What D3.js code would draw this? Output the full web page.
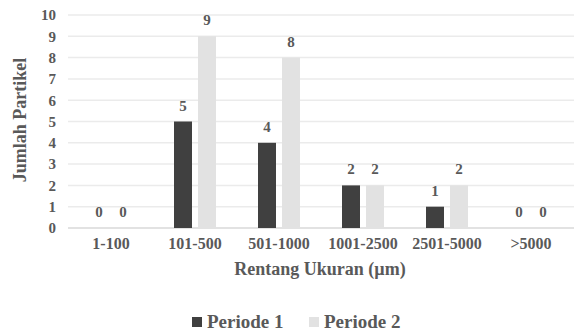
<!DOCTYPE html>
<html>
<head>
<meta charset="utf-8">
<script src="https://cdn.jsdelivr.net/npm/d3@7"></script>
<style>
  body { margin: 0; background: #fff; font-family: "Liberation Serif"; font-weight: bold; }
  #chart { font-family: "Liberation Serif"; }
</style>
</head>
<body>
<div id="chart"></div>
<script>
'use strict';

let categories = ['1-100', '101-500', '501-1000', '1001-2500', '2501-5000', '>5000'];
let seriesNames = ['Periode 1', 'Periode 2'];
let periode1 = [0, 5, 4, 2, 1, 0];
let periode2 = [0, 9, 8, 2, 2, 0];
let yTicks = [0, 1, 2, 3, 4, 5, 6, 7, 8, 9, 10];
let colors = ['#404040', '#e2e2e2'];

let w = 574, h = 331;
let textColor = '#595959';
let svg = d3.select('#chart').append('svg').attr('width', w).attr('height', h)
    .style('font', 'bold 15px "Liberation Serif"');

// shared text styling, font shorthand on every text
let styleText = function (sel, size) {
    sel.attr('font-family', null).attr('font-size', null)
        .style('font', 'bold ' + size + 'px "Liberation Serif"')
        .style('fill', textColor);
};

let x = d3.scaleBand().domain(categories).range([69, 573]);
let x1 = d3.scaleBand().domain(seriesNames).range([0, x.bandwidth()])
    .paddingInner(0.25).paddingOuter(0.875);
let y = d3.scaleLinear().domain([0, 10]).range([228, 15]);

let rows = categories.map(function (c, i) {
    return { cat: c, values: [periode1[i], periode2[i]] };
});

// gridlines
svg.append('g').selectAll('line').data(yTicks).enter().append('line')
    .attr('x1', 68).attr('x2', w)
    .attr('y1', function (d) { return y(d); })
    .attr('y2', function (d) { return y(d); })
    .attr('stroke', function (d) { return d === 0 ? '#d9d9d9' : '#ebebeb'; })
    .attr('stroke-width', 1.5);

// y axis labels
let yAxis = d3.axisLeft(y).tickValues(yTicks).tickSize(0).tickPadding(0);
svg.append('g')
    .attr('transform', 'translate(56,0)')
    .call(yAxis)
    .call(function (g) {
        g.select('.domain').remove();
        g.attr('font-family', null).attr('font-size', null);
    })
    .selectAll('text')
    .call(styleText, 15);

// x axis labels
let xAxis = d3.axisBottom(x).tickSize(0).tickPadding(0);
svg.append('g')
    .attr('transform', 'translate(0,238)')
    .call(xAxis)
    .call(function (g) {
        g.select('.domain').remove();
        g.attr('font-family', null).attr('font-size', null);
    })
    .selectAll('text')
    .call(styleText, 16);

// bars
let groups = svg.append('g').selectAll('g').data(rows).enter().append('g')
    .attr('transform', function (d) { return 'translate(' + x(d.cat) + ',0)'; });

groups.selectAll('rect')
    .data(function (d) { return d.values.map(function (v, i) { return { s: seriesNames[i], v: v, i: i }; }); })
    .enter().append('rect')
    .attr('x', function (d) { return x1(d.s); })
    .attr('width', x1.bandwidth())
    .attr('y', function (d) { return y(d.v); })
    .attr('height', function (d) { return y(0) - y(d.v); })
    .attr('fill', function (d) { return colors[d.i]; });

groups.selectAll('text')
    .data(function (d) { return d.values.map(function (v, i) { return { s: seriesNames[i], v: v }; }); })
    .enter().append('text')
    .attr('x', function (d) { return x1(d.s) + x1.bandwidth() / 2; })
    .attr('y', function (d) { return y(d.v) - 11; })
    .attr('text-anchor', 'middle')
    .call(styleText, 15)
    .text(function (d) { return d.v; });

// axis titles
svg.append('text')
    .attr('text-anchor', 'middle')
    .attr('transform', 'translate(26,120)rotate(-90)')
    .call(styleText, 18)
    .text('Jumlah Partikel');

svg.append('text')
    .attr('text-anchor', 'middle')
    .attr('x', 320).attr('y', 275)
    .call(styleText, 18)
    .text('Rentang Ukuran  (\u00b5m)');

// legend
let legendX = [192, 309];
let legend = svg.append('g').selectAll('g').data(seriesNames).enter().append('g')
    .attr('transform', function (d, i) { return 'translate(' + legendX[i] + ',317)'; });
legend.append('rect')
    .attr('width', 10).attr('height', 10)
    .attr('fill', function (d, i) { return colors[i]; });
legend.append('text')
    .attr('x', 15).attr('y', 11)
    .call(styleText, 19)
    .text(function (d) { return d; });
</script>
</body>
</html>
